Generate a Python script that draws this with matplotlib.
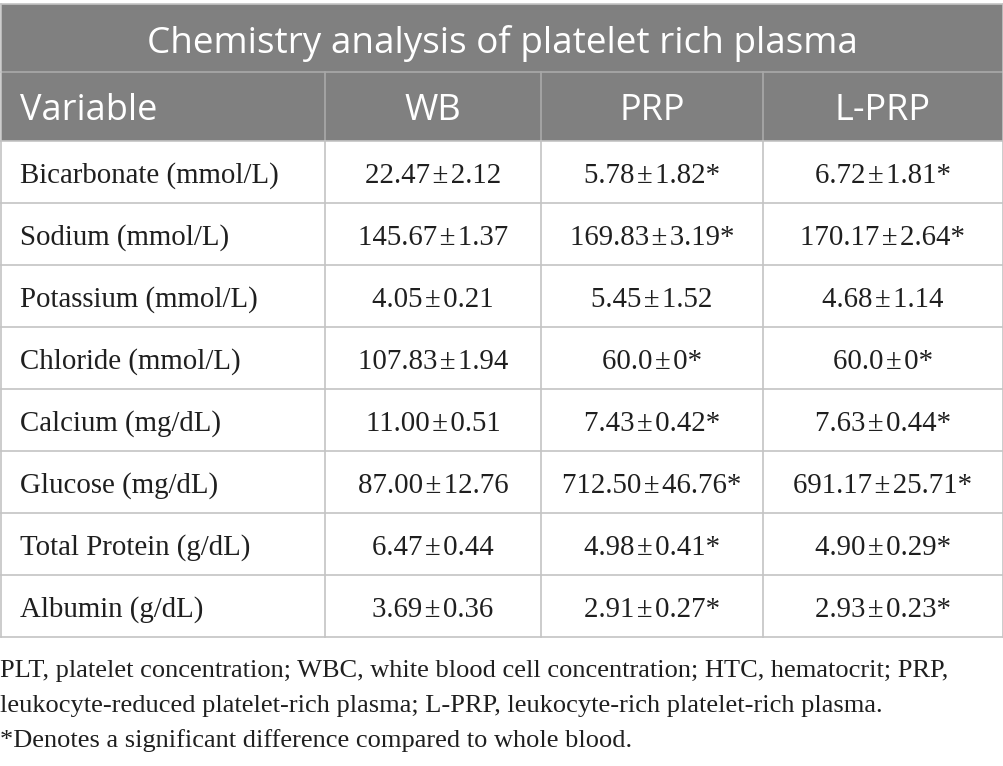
import matplotlib
matplotlib.use("Agg")
import matplotlib.pyplot as plt
from matplotlib.patches import Rectangle

title = "Chemistry analysis of platelet rich plasma"
columns = ["Variable", "WB", "PRP", "L-PRP"]
variables = ["Bicarbonate (mmol/L)", "Sodium (mmol/L)", "Potassium (mmol/L)",
             "Chloride (mmol/L)", "Calcium (mg/dL)", "Glucose (mg/dL)",
             "Total Protein (g/dL)", "Albumin (g/dL)"]
# mean, sd, significant vs whole blood
wb = [("22.47", "2.12", 0), ("145.67", "1.37", 0), ("4.05", "0.21", 0), ("107.83", "1.94", 0),
      ("11.00", "0.51", 0), ("87.00", "12.76", 0), ("6.47", "0.44", 0), ("3.69", "0.36", 0)]
prp = [("5.78", "1.82", 1), ("169.83", "3.19", 1), ("5.45", "1.52", 0), ("60.0", "0", 1),
       ("7.43", "0.42", 1), ("712.50", "46.76", 1), ("4.98", "0.41", 1), ("2.91", "0.27", 1)]
lprp = [("6.72", "1.81", 1), ("170.17", "2.64", 1), ("4.68", "1.14", 0), ("60.0", "0", 1),
        ("7.63", "0.44", 1), ("691.17", "25.71", 1), ("4.90", "0.29", 1), ("2.93", "0.23", 1)]
footnotes = ["PLT, platelet concentration; WBC, white blood cell concentration; HTC, hematocrit; PRP,",
             "leukocyte-reduced platelet-rich plasma; L-PRP, leukocyte-rich platelet-rich plasma.",
             "*Denotes a significant difference compared to whole blood."]


def cell(v):
    return v[0] + "\u200a±\u200a" + v[1] + ("*" if v[2] else "")


W, H = 1004, 766
fig = plt.figure(figsize=(W / 100, H / 100), dpi=100)
ax = fig.add_axes([0, 0, 1, 1])
ax.set_xlim(0, W)
ax.set_ylim(H, 0)
ax.axis("off")

# layout in pixels
col_x = [1, 325, 541, 763, 1003]
top = 4
title_h = 68
head_h = 69
row_h = 62
body_top = top + title_h + head_h
body_bot = body_top + row_h * len(variables)

head_bg = "#808080"
head_line = "#a9a9a9"
line_c = "#c4c4c4"
txt_c = "#1f1f1f"
sans = "Open Sans"
serif = "Liberation Serif"

# header background
ax.add_patch(Rectangle((col_x[0], top), col_x[-1] - col_x[0], title_h + head_h,
                       facecolor=head_bg, edgecolor="none"))
ax.plot([col_x[0], col_x[-1]], [top + title_h] * 2, color=head_line, lw=1.2)
for x in col_x[1:-1]:
    ax.plot([x, x], [top + title_h, body_top], color=head_line, lw=1.2)

ax.text((col_x[0] + col_x[-1]) / 2, 53, title, color="white",
        fontsize=26.6, family=sans, ha="center", va="baseline")
for i, c in enumerate(columns):
    if i == 0:
        ax.text(col_x[0] + 19, 120, c, color="white",
                fontsize=26, family=sans, ha="left", va="baseline")
    else:
        ax.text((col_x[i] + col_x[i + 1]) / 2, 120, c,
                color="white", fontsize=26, family=sans, ha="center", va="baseline")

# body grid
for r in range(len(variables) + 1):
    y = body_top + r * row_h
    ax.plot([col_x[0], col_x[-1]], [y, y], color=line_c, lw=1.2)
for x in col_x:
    ax.plot([x, x], [body_top, body_bot], color=line_c, lw=1.2)
ax.plot([col_x[0], col_x[0]], [top, body_top], color=line_c, lw=1.2)
ax.plot([col_x[-1], col_x[-1]], [top, body_top], color=line_c, lw=1.2)
ax.plot([col_x[0], col_x[-1]], [top, top], color=line_c, lw=1.2)

for r, name in enumerate(variables):
    yb = body_top + (r + 0.5) * row_h + 11
    ax.text(col_x[0] + 19, yb, name, fontsize=20.8, family=serif, color=txt_c,
            ha="left", va="baseline")
    for j, vals in enumerate([wb, prp, lprp]):
        ax.text((col_x[j + 1] + col_x[j + 2]) / 2, yb, cell(vals[r]), fontsize=20.8,
                family=serif, color=txt_c, ha="center", va="baseline")

for k, line in enumerate(footnotes):
    ax.text(0, 677 + k * 35, line, fontsize=19, family=serif,
            color=txt_c, ha="left", va="baseline")

fig.savefig("out.png", dpi=100)
